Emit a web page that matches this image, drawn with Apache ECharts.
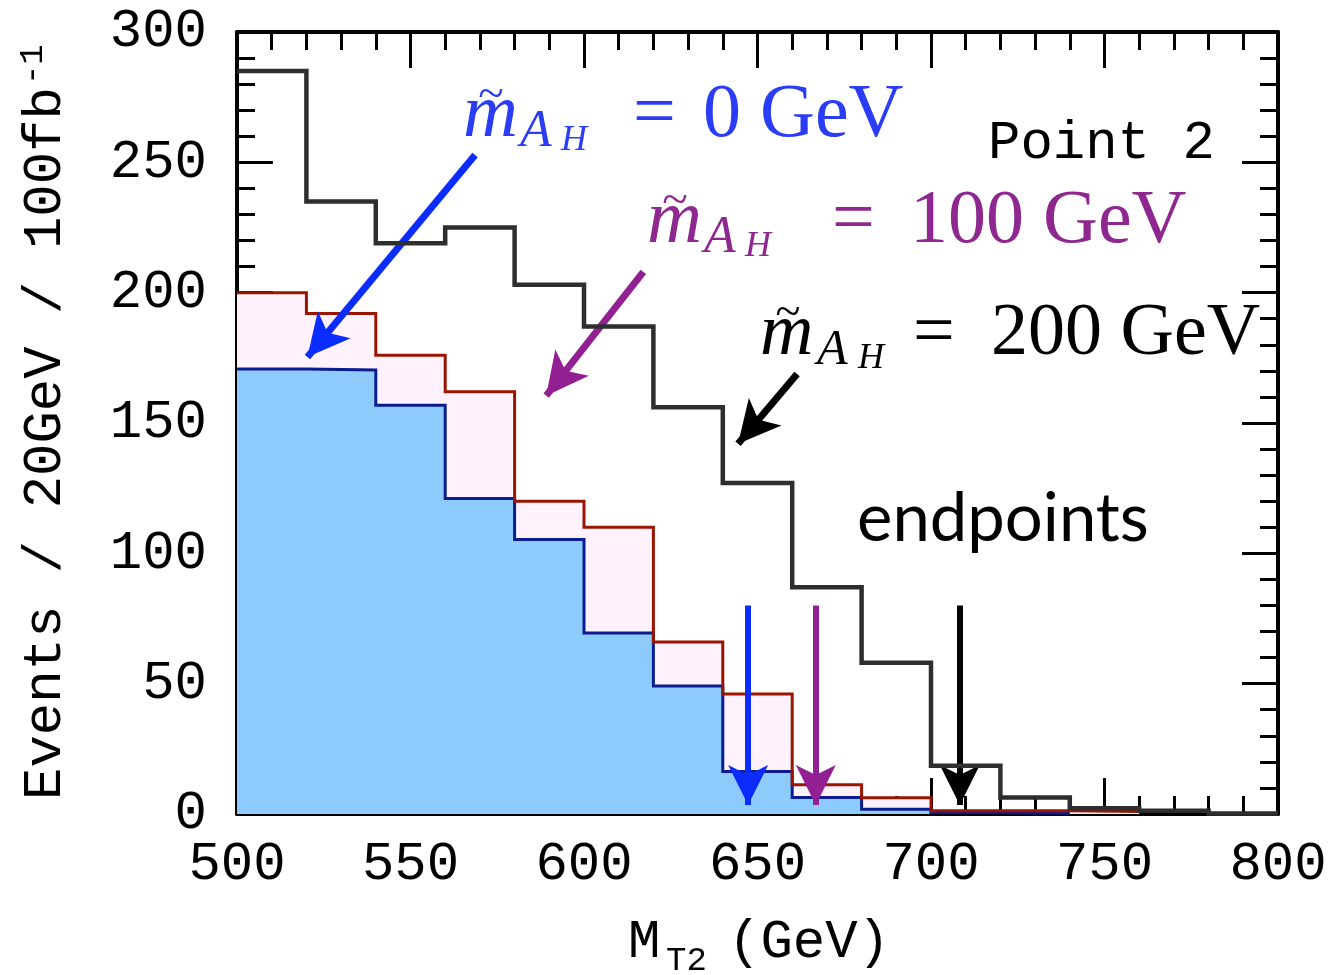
<!DOCTYPE html>
<html>
<head>
<meta charset="utf-8">
<script src="https://cdn.jsdelivr.net/npm/echarts@6/dist/echarts.min.js"></script>
<style>
  html, body { margin: 0; padding: 0; background: #ffffff; }
  #chart { width: 1332px; height: 975px; }
</style>
</head>
<body>
<div id="chart"></div>
<script>
// M_T2 histogram bins (GeV) and events per 20 GeV / 100 fb^-1
const binEdges = [500, 520, 540, 560, 580, 600, 620, 640, 660, 680, 700, 720, 740, 760, 780, 800];
const eventsMass200 = [285, 235, 219, 225, 203, 187, 156, 127, 87, 58, 18.5, 6.3, 2.2, 1.2, 0.2];
const eventsMass100 = [200, 192, 176, 162, 120, 110, 66, 46, 11.2, 6.2, 1.2, 1.2, 1.0];
const eventsMass0 = [170.7, 170.3, 156.8, 121, 105.3, 69.4, 49.1, 16.3, 6.3, 1.8, 0.5, 0.3];

// kinematic endpoints (GeV) for m = 0, 100, 200 GeV
const endpointValues = [647.3, 666.8, 708.3];
const endpointArrowFrom = 80;
const endpointArrowTo = 3.5;

// pointer arrows from each label to its histogram, [x, y] in data units
const pointerFrom = [[568.6, 252.8], [617.1, 208.0], [661.4, 168.8]];
const pointerTo = [[520.3, 175.3], [589.1, 160.5], [644.4, 142.0]];

const seriesColors = ['#0a2cff', '#922092', '#000000'];
const labelColors = ['#2a3cf6', '#8e2890', '#000000'];

function histPoints(edges, values) {
  const pts = values.map((v, i) => [edges[i], v]);
  pts.push([edges[values.length], values[values.length - 1]]);
  return pts;
}

const chart = echarts.init(document.getElementById('chart'), null, { renderer: 'canvas' });

const tickFont = { fontFamily: 'Liberation Mono', fontSize: 54, color: '#000' };
function frameAxis(extra) {
  return Object.assign({
    type: 'value',
    axisLine: { show: true, onZero: false, lineStyle: { color: '#000', width: 4 } },
    axisTick: { show: true, inside: true, length: 36, lineStyle: { color: '#000', width: 3 } },
    minorTick: { show: true, splitNumber: 5, length: 18, lineStyle: { color: '#000', width: 3 } },
    splitLine: { show: false },
    minorSplitLine: { show: false }
  }, extra);
}

const arrowLines = [];
pointerFrom.forEach((p, i) => {
  arrowLines.push([
    { coord: p, lineStyle: { color: seriesColors[i], width: 7, type: 'solid' }, symbol: 'none' },
    { coord: pointerTo[i], symbol: 'arrow', symbolSize: [32, 42] }
  ]);
});
endpointValues.forEach((x, i) => {
  arrowLines.push([
    { coord: [x, endpointArrowFrom], lineStyle: { color: seriesColors[i], width: 6, type: 'solid' }, symbol: 'none' },
    { coord: [x, endpointArrowTo], symbol: 'arrow', symbolSize: [30, 40] }
  ]);
});

chart.setOption({
  animation: false,
  backgroundColor: '#ffffff',
  grid: { left: 237, right: 54, top: 32, bottom: 161 },
  xAxis: [
    frameAxis({ min: 500, max: 800, interval: 50, position: 'bottom',
      axisLabel: Object.assign({ margin: 24 }, tickFont) }),
    frameAxis({ min: 500, max: 800, interval: 50, position: 'top', axisLabel: { show: false } })
  ],
  yAxis: [
    frameAxis({ min: 0, max: 300, interval: 50, position: 'left',
      axisLabel: Object.assign({ margin: 30 }, tickFont) }),
    frameAxis({ min: 0, max: 300, interval: 50, position: 'right', axisLabel: { show: false } })
  ],
  series: [
    {
      name: 'm100 fill', type: 'line', step: 'end', symbol: 'none', silent: true,
      data: histPoints(binEdges, eventsMass100),
      lineStyle: { width: 0, opacity: 0 },
      areaStyle: { color: '#fff2fc', opacity: 1 }, z: 2
    },
    {
      name: 'm0', type: 'line', step: 'end', symbol: 'none',
      data: histPoints(binEdges, eventsMass0),
      lineStyle: { color: '#0a1c8f', width: 3, join: 'miter' },
      areaStyle: { color: '#8ecbfd', opacity: 1 }, z: 3
    },
    {
      name: 'm100', type: 'line', step: 'end', symbol: 'none',
      data: histPoints(binEdges, eventsMass100),
      lineStyle: { color: '#9a1500', width: 3, join: 'miter' }, z: 4
    },
    {
      name: 'm200', type: 'line', step: 'end', symbol: 'none',
      data: histPoints(binEdges, eventsMass200),
      lineStyle: { color: '#2e2e2e', width: 4.5, join: 'miter' }, z: 5
    },
    {
      name: 'arrows', type: 'line', data: [], z: 6,
      markLine: {
        silent: true, animation: false,
        symbol: ['none', 'arrow'],
        label: { show: false },
        emphasis: { disabled: true },
        data: arrowLines
      }
    }
  ]
});

// ---- text annotations ----
const measureCtx = document.createElement('canvas').getContext('2d');
function midOffset(font) {
  measureCtx.font = font;
  measureCtx.textBaseline = 'alphabetic';
  const a = measureCtx.measureText('H').actualBoundingBoxAscent;
  measureCtx.textBaseline = 'middle';
  const b = measureCtx.measureText('H').actualBoundingBoxAscent;
  return a - b;
}
function textWidth(font, s) {
  measureCtx.font = font;
  return measureCtx.measureText(s).width;
}
function textAt(x, baseline, text, font, color) {
  return {
    type: 'text', x: x, y: baseline - midOffset(font), silent: true, z: 100,
    style: { text: text, font: font, fill: color, align: 'left', textAlign: 'left',
             verticalAlign: 'middle', textVerticalAlign: 'middle' }
  };
}
function textCentered(cx, cy, text, font, color) {
  return {
    type: 'text', x: cx, y: cy, silent: true, z: 100,
    style: { text: text, font: font, fill: color, align: 'center', textAlign: 'center',
             verticalAlign: 'middle', textVerticalAlign: 'middle' }
  };
}
const SERIF = '"Liberation Serif", "Times New Roman", serif';
const MONO = '"Liberation Mono", "Courier New", monospace';

// m~_{A_H} = N GeV label: x of m, baseline, then x positions of "=", value
function massLabel(mx, base, eqX, numX, valueText, size, color) {
  const f = (style, s) => style + ' ' + Math.round(s) + 'px ' + SERIF;
  return [
    textAt(mx, base, 'm', f('italic', size), color),
    textCentered(mx + 28, base - 40, '~', f('normal', size * 0.62), color),
    textAt(mx + 57, base + 10, 'A', f('italic', size * 0.68), color),
    textAt(mx + 98, base + 14, 'H', f('italic', size * 0.48), color),
    textAt(eqX, base, '=', f('normal', size), color),
    textAt(numX, base, valueText + ' GeV', f('normal', size), color)
  ];
}

const graphics = [];
graphics.push(...massLabel(463, 136, 633, 703, '0', 76, labelColors[0]));
graphics.push(...massLabel(647, 242, 832, 910, '100', 76, labelColors[1]));
graphics.push(...massLabel(760, 354, 913, 991, '200', 74, labelColors[2]));

graphics.push(textAt(988, 158, 'Point 2', '54px ' + MONO, '#000'));
graphics.push(textAt(857, 541, 'endpoints', '67px Lato, "Open Sans", sans-serif', '#000'));

// x-axis title: M_T2 (GeV)
const titleFont = '54px ' + MONO;
const subFont = '34px ' + MONO;
graphics.push(textAt(628, 957, 'M', titleFont, '#000'));
graphics.push(textAt(666, 970, 'T2', subFont, '#000'));
graphics.push(textAt(728, 957, '(GeV)', titleFont, '#000'));

// y-axis title, rotated to read bottom-to-top
const yMain = 'Events / 20GeV / 100fb';
const yMainW = textWidth(titleFont, yMain);
const yBaseX = 60;
const mainMid = midOffset(titleFont);
const supMid = midOffset(subFont);
graphics.push({
  type: 'group', x: yBaseX - mainMid, y: 800, rotation: Math.PI / 2, silent: true,
  children: [
    { type: 'text', x: 0, y: 0, z: 100,
      style: { text: yMain, font: titleFont, fill: '#000', align: 'left', textAlign: 'left',
               verticalAlign: 'middle', textVerticalAlign: 'middle' } },
    { type: 'text', x: yMainW + 2, y: mainMid - 18 - supMid, z: 100,
      style: { text: '-1', font: subFont, fill: '#000', align: 'left', textAlign: 'left',
               verticalAlign: 'middle', textVerticalAlign: 'middle' } }
  ]
});

chart.setOption({ graphic: { elements: graphics } });
</script>
</body>
</html>
